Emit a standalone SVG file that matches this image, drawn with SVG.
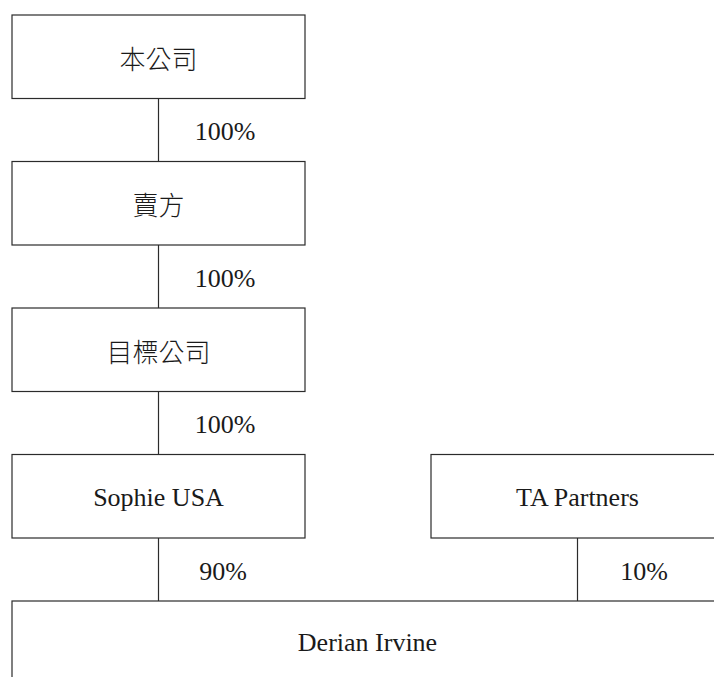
<svg xmlns="http://www.w3.org/2000/svg" width="714" height="677" viewBox="0 0 714 677">
<style>
.box{fill:#fff;stroke:#2b2b2b;stroke-width:1.2}
.ln{stroke:#2b2b2b;stroke-width:1.2;fill:none}
.t{font-family:"Liberation Serif","Noto Sans CJK TC",serif;font-size:26px;fill:#1a1a1a;text-anchor:middle}
.c{font-family:"Noto Sans CJK TC","Noto Sans CJK SC",sans-serif;font-size:26px;font-weight:300;fill:#1a1a1a;text-anchor:middle;dominant-baseline:central}
</style>
<rect width="714" height="677" fill="#fff"/>
<g id="connectors">
<line class="ln" x1="158.5" y1="98.5" x2="158.5" y2="161.5"/>
<line class="ln" x1="158.5" y1="245" x2="158.5" y2="308"/>
<line class="ln" x1="158.5" y1="391.5" x2="158.5" y2="454.5"/>
<line class="ln" x1="158.5" y1="538" x2="158.5" y2="601"/>
<line class="ln" x1="577.5" y1="538" x2="577.5" y2="601"/>
<text class="t" x="225" y="140">100%</text>
<text class="t" x="225" y="286.5">100%</text>
<text class="t" x="225" y="433">100%</text>
<text class="t" x="223" y="579.5">90%</text>
<text class="t" x="644" y="579.5">10%</text>
</g>
<g id="n1"><rect class="box" x="12" y="15" width="293" height="83.5"/><text class="c" x="158.5" y="57">本公司</text></g>
<g id="n2"><rect class="box" x="12" y="161.5" width="293" height="83.5"/><text class="c" x="158.5" y="203.5">賣方</text></g>
<g id="n3"><rect class="box" x="12" y="308" width="293" height="83.5"/><text class="c" x="158.5" y="350">目標公司</text></g>
<g id="n4"><rect class="box" x="12" y="454.5" width="293" height="83.5"/><text class="t" x="158.5" y="505.5">Sophie USA</text></g>
<g id="n5"><rect class="box" x="431" y="454.5" width="293" height="83.5"/><text class="t" x="577.5" y="505.5">TA Partners</text></g>
<g id="n6"><rect class="box" x="12" y="601" width="711" height="83.5"/><text class="t" x="367.5" y="651">Derian Irvine</text></g>
</svg>
